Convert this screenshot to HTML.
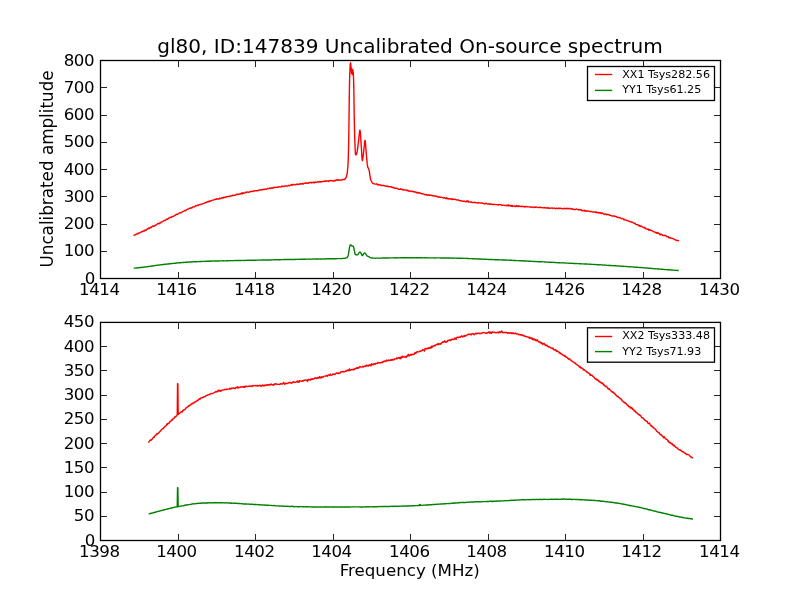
<!DOCTYPE html>
<html lang="en"><head><meta charset="utf-8"><title>gl80, ID:147839 Uncalibrated On-source spectrum</title>
<style>
html,body{margin:0;padding:0;background:#fff;}
body{width:800px;height:600px;overflow:hidden;}
svg{display:block;will-change:transform;}
text{font-family:"DejaVu Sans","Bitstream Vera Sans","Liberation Sans",sans-serif;fill:#000;}
.tk{font-size:16.67px;}
.lg{font-size:11.11px;}
.nm{font-size:16.67px;letter-spacing:-0.45px;}
.ti{font-size:20.06px;}
.ax{stroke:#000;stroke-width:1.3;fill:none;}
.tick{stroke:#262626;stroke-width:1;fill:none;shape-rendering:crispEdges;}
.ln{fill:none;stroke-width:1.4;stroke-linejoin:round;stroke-linecap:butt;}
</style></head><body>
<svg width="800" height="600" viewBox="0 0 800 600">
<rect x="0" y="0" width="800" height="600" fill="#ffffff"/>
<text class="ti" x="410" y="52.9" text-anchor="middle">gl80, ID:147839 Uncalibrated On-source spectrum</text>
<g id="ax1">
<path class="ln" stroke="#ff0000" d="M133.75 235.84L134.30 235.04L134.85 234.93L135.40 234.79L135.95 234.24L136.50 234.21L137.05 233.96L137.60 233.27L138.15 233.74L138.70 233.39L139.25 232.83L139.79 232.70L140.34 232.62L140.88 232.18L141.43 231.93L141.97 231.37L142.52 231.64L143.06 231.27L143.60 231.05L144.15 230.33L144.69 230.90L145.23 230.25L145.77 229.85L146.31 230.22L146.85 229.42L147.39 228.79L147.93 228.80L148.47 228.05L149.01 228.65L149.55 228.00L150.09 227.65L150.62 227.86L151.16 226.88L151.70 227.19L152.24 226.24L152.77 226.34L153.31 225.93L153.85 226.36L154.38 226.17L154.92 225.35L155.46 225.39L155.99 224.85L156.53 224.78L157.06 224.16L157.60 223.64L158.13 223.34L158.66 223.64L159.20 223.85L159.73 223.06L160.26 222.57L160.80 222.93L161.33 222.22L161.86 221.91L162.40 221.67L162.93 221.30L163.46 220.98L163.99 220.41L164.53 220.64L165.06 220.21L165.60 220.27L166.13 219.59L166.67 218.92L167.20 219.12L167.74 219.32L168.28 218.51L168.81 218.11L169.35 217.77L169.89 217.54L170.43 217.46L170.96 216.97L171.50 217.40L172.04 216.67L172.58 216.51L173.12 216.59L173.65 216.34L174.19 215.63L174.73 215.51L175.27 215.35L175.81 214.85L176.35 214.17L176.89 214.55L177.43 214.35L177.97 213.97L178.52 213.36L179.06 213.29L179.60 212.93L180.14 212.75L180.69 212.91L181.23 212.72L181.77 212.24L182.31 211.95L182.86 211.72L183.40 211.29L183.94 211.01L184.49 210.60L185.03 210.51L185.58 210.86L186.12 210.24L186.67 209.67L187.21 209.39L187.76 209.04L188.31 209.12L188.85 208.88L189.40 208.16L189.95 208.42L190.51 207.92L191.06 208.20L191.61 207.65L192.17 207.83L192.72 207.04L193.28 206.87L193.84 206.81L194.40 206.80L194.96 206.46L195.53 205.79L196.09 205.95L196.66 205.71L197.22 205.39L197.79 205.14L198.36 205.56L198.93 204.81L199.49 204.50L200.06 204.70L200.63 204.37L201.20 204.13L201.77 204.16L202.34 203.90L202.92 203.68L203.49 203.65L204.06 203.28L204.63 202.86L205.20 202.74L205.77 202.51L206.34 202.51L206.91 201.99L207.48 201.60L208.05 201.91L208.62 201.35L209.19 201.01L209.76 201.42L210.33 200.96L210.90 201.08L211.47 200.63L212.04 200.30L212.62 200.09L213.19 200.10L213.76 199.99L214.34 199.67L214.91 199.64L215.49 199.15L216.07 199.39L216.64 198.76L217.22 199.02L217.80 199.10L218.38 199.06L218.96 199.08L219.55 198.09L220.13 198.55L220.71 198.53L221.30 198.34L221.88 197.71L222.47 197.93L223.06 198.18L223.64 197.18L224.23 197.57L224.82 197.61L225.41 197.01L225.99 197.22L226.58 196.67L227.17 196.61L227.76 196.48L228.34 196.62L228.93 196.42L229.51 196.56L230.10 195.93L230.68 196.01L231.27 196.16L231.85 195.92L232.44 195.29L233.02 195.67L233.61 195.23L234.19 195.32L234.77 195.16L235.36 195.26L235.94 194.83L236.53 194.18L237.11 194.17L237.69 194.57L238.28 194.18L238.86 194.40L239.45 194.04L240.03 193.64L240.61 193.98L241.20 193.36L241.78 192.90L242.37 193.84L242.96 192.68L243.54 193.22L244.13 193.17L244.72 192.85L245.30 192.25L245.89 192.84L246.48 192.08L247.07 191.99L247.66 192.14L248.25 192.32L248.84 192.09L249.43 192.11L250.02 191.68L250.61 191.64L251.20 191.28L251.79 191.39L252.38 191.52L252.97 191.19L253.56 191.29L254.15 190.91L254.75 190.80L255.34 190.87L255.93 190.70L256.52 190.81L257.11 190.60L257.70 190.90L258.29 190.29L258.89 190.18L259.48 189.87L260.07 190.04L260.66 190.11L261.25 189.64L261.84 189.71L262.43 189.81L263.02 189.49L263.61 189.28L264.21 189.56L264.80 189.23L265.39 189.21L265.98 189.30L266.57 189.19L267.16 188.70L267.75 188.55L268.34 188.66L268.94 188.45L269.53 187.89L270.12 188.62L270.71 188.19L271.30 188.28L271.89 187.69L272.49 188.23L273.08 187.65L273.67 187.68L274.26 187.25L274.86 187.48L275.45 187.37L276.04 187.29L276.64 187.37L277.23 187.18L277.82 187.33L278.42 186.87L279.01 186.65L279.60 186.82L280.20 186.91L280.79 186.98L281.39 186.79L281.98 186.04L282.58 186.51L283.17 186.71L283.77 186.27L284.36 186.04L284.95 186.17L285.55 185.88L286.14 186.10L286.74 185.85L287.33 186.13L287.93 185.82L288.52 185.42L289.12 185.68L289.71 185.68L290.30 185.21L290.90 185.16L291.49 184.59L292.09 185.34L292.68 184.86L293.27 184.38L293.87 184.38L294.46 184.70L295.06 184.86L295.65 184.55L296.24 184.61L296.84 184.12L297.43 183.97L298.02 184.46L298.62 184.27L299.21 184.05L299.81 184.31L300.40 183.64L301.00 183.70L301.59 184.00L302.18 184.13L302.78 183.58L303.37 183.93L303.97 183.27L304.56 183.44L305.16 183.24L305.76 182.80L306.35 183.21L306.95 183.32L307.54 182.98L308.14 182.93L308.74 183.25L309.33 182.50L309.93 182.37L310.53 182.53L311.13 182.33L311.72 182.93L312.32 182.61L312.92 182.24L313.51 182.25L314.11 183.10L314.71 182.14L315.31 182.04L315.90 182.26L316.50 182.29L317.10 182.13L317.70 181.78L318.29 181.66L318.89 182.06L319.49 181.83L320.09 181.37L320.68 182.04L321.28 181.88L321.88 181.56L322.48 181.50L323.07 181.57L323.67 181.28L324.27 181.05L324.87 181.43L325.46 180.92L326.06 181.34L326.66 180.82L327.26 181.11L327.85 181.05L328.45 181.49L329.05 180.70L329.65 180.56L330.24 180.70L330.84 180.53L331.44 180.61L332.04 180.82L332.64 180.86L333.23 181.04L333.83 180.36L334.43 181.19L335.03 180.96L335.62 180.34L336.22 179.75L336.82 180.28L337.42 180.28L338.02 179.61L338.62 180.18L339.22 180.06L339.82 179.86L340.41 180.17L341.01 180.20L341.60 179.74L342.21 179.85L342.85 179.53L343.48 179.40L344.08 179.50L344.59 179.45L345.02 178.93L345.41 178.07L345.76 178.24L346.06 177.07L346.28 176.95L346.46 176.84L346.62 175.81L346.77 174.92L346.90 174.26L347.02 174.34L347.13 173.43L347.23 172.97L347.31 172.47L347.39 171.62L347.45 170.96L347.51 170.20L347.57 169.05L347.63 168.86L347.68 168.64L347.73 168.01L347.78 167.57L347.83 166.83L347.87 166.30L347.91 165.87L347.95 164.83L347.99 164.39L348.02 163.44L348.06 163.51L348.09 162.67L348.12 162.19L348.14 161.86L348.17 161.14L348.19 160.24L348.21 159.87L348.23 158.69L348.25 158.58L348.27 157.90L348.29 156.84L348.31 157.01L348.33 155.88L348.35 155.64L348.37 154.76L348.39 154.53L348.40 154.01L348.42 152.85L348.44 152.07L348.45 151.83L348.47 151.49L348.48 150.57L348.50 149.91L348.51 149.60L348.52 148.15L348.54 148.10L348.55 147.31L348.57 147.15L348.58 146.28L348.59 145.58L348.60 145.18L348.62 144.29L348.63 144.07L348.64 143.29L348.65 142.77L348.66 142.08L348.67 141.91L348.68 141.04L348.69 140.61L348.71 139.99L348.72 139.06L348.73 138.82L348.74 138.16L348.75 137.55L348.76 136.77L348.77 136.16L348.78 135.87L348.79 135.64L348.80 134.25L348.81 134.01L348.81 133.17L348.82 132.87L348.83 132.18L348.84 131.74L348.85 130.14L348.86 130.11L348.87 129.41L348.88 129.04L348.89 128.28L348.90 127.70L348.91 127.45L348.92 127.16L348.93 125.33L348.94 125.39L348.95 124.95L348.96 124.27L348.97 123.58L348.97 122.72L348.98 122.22L348.99 122.06L349.00 121.55L349.01 120.69L349.01 119.85L349.02 119.49L349.03 118.81L349.04 118.41L349.04 117.70L349.05 116.91L349.06 116.52L349.07 115.56L349.07 115.48L349.08 114.98L349.09 113.76L349.09 113.58L349.10 112.61L349.11 112.55L349.11 111.90L349.12 111.01L349.13 110.73L349.13 109.76L349.14 109.10L349.15 108.52L349.15 108.03L349.16 107.39L349.17 106.91L349.17 106.11L349.18 105.87L349.19 105.34L349.19 104.34L349.20 103.50L349.21 103.46L349.21 102.97L349.22 102.03L349.23 101.14L349.24 100.94L349.24 100.67L349.25 99.18L349.26 99.19L349.27 98.39L349.28 97.65L349.28 97.40L349.29 96.33L349.30 96.15L349.31 95.81L349.32 94.92L349.33 94.04L349.34 93.21L349.35 92.74L349.36 91.99L349.37 92.29L349.38 91.21L349.39 90.40L349.40 89.73L349.41 89.19L349.42 88.78L349.43 87.94L349.44 88.11L349.45 86.88L349.47 86.27L349.48 85.95L349.49 85.65L349.50 85.02L349.51 83.94L349.53 83.54L349.54 82.91L349.55 82.41L349.57 81.74L349.58 80.83L349.59 80.14L349.61 79.92L349.63 78.96L349.64 79.03L349.66 78.08L349.67 77.21L349.69 76.79L349.71 76.14L349.73 75.64L349.75 75.32L349.77 74.10L349.79 73.39L349.81 73.36L349.83 72.63L349.86 72.12L349.88 71.59L349.91 70.83L349.93 70.43L349.96 69.27L350.00 68.75L350.04 67.73L350.08 66.85L350.12 66.52L350.17 65.77L350.22 64.42L350.27 64.02L350.32 63.87L350.38 63.66L350.43 62.94L350.49 62.95L350.55 62.72L350.62 64.04L350.70 64.00L350.78 64.73L350.87 65.39L350.95 66.24L351.03 66.95L351.11 67.46L351.18 68.44L351.23 68.90L351.29 69.93L351.33 70.19L351.38 71.03L351.42 72.10L351.47 72.92L351.51 73.14L351.56 73.23L351.61 73.46L351.67 73.03L351.72 72.99L351.78 71.89L351.84 71.10L351.90 70.06L351.96 69.31L352.01 69.61L352.06 70.00L352.11 70.28L352.15 70.89L352.20 72.05L352.24 72.56L352.28 73.66L352.33 73.91L352.38 74.20L352.42 74.59L352.47 74.12L352.52 73.83L352.57 72.41L352.62 71.60L352.67 70.50L352.73 69.74L352.80 69.54L352.89 70.36L352.99 70.53L353.10 71.90L353.19 72.72L353.24 72.88L353.29 73.98L353.33 74.21L353.37 75.04L353.40 75.28L353.44 76.19L353.47 76.30L353.50 77.31L353.52 77.62L353.54 78.31L353.57 79.11L353.59 79.59L353.60 80.12L353.62 80.93L353.64 81.55L353.66 81.58L353.67 82.69L353.69 83.32L353.70 83.55L353.72 84.44L353.73 84.60L353.74 85.91L353.76 86.08L353.77 86.72L353.78 87.65L353.80 87.90L353.81 88.69L353.82 88.87L353.83 89.59L353.84 89.98L353.85 90.88L353.86 91.81L353.87 92.20L353.88 92.97L353.89 93.07L353.90 93.71L353.91 94.42L353.92 95.29L353.93 95.83L353.94 96.33L353.95 97.10L353.96 97.50L353.96 98.13L353.97 99.08L353.98 99.19L353.99 99.99L354.00 100.96L354.00 101.16L354.01 101.92L354.02 102.18L354.03 103.45L354.04 102.95L354.04 103.84L354.05 104.46L354.06 105.76L354.07 106.03L354.08 106.47L354.08 106.81L354.09 107.83L354.10 108.37L354.11 108.76L354.12 109.15L354.13 109.85L354.13 110.79L354.14 111.42L354.15 111.96L354.16 112.50L354.17 112.68L354.18 113.75L354.19 114.07L354.20 114.95L354.21 115.66L354.22 115.96L354.23 116.47L354.25 117.60L354.26 118.03L354.27 118.37L354.28 118.36L354.29 119.73L354.31 120.50L354.32 121.23L354.33 121.36L354.35 121.97L354.36 122.62L354.37 123.56L354.38 123.63L354.40 124.51L354.41 124.90L354.42 125.81L354.44 125.93L354.45 127.04L354.46 127.41L354.48 128.08L354.49 128.88L354.50 129.64L354.52 129.50L354.53 130.80L354.55 131.28L354.56 131.66L354.58 132.70L354.59 132.99L354.61 133.87L354.62 133.98L354.64 134.51L354.66 135.66L354.67 136.50L354.69 136.70L354.71 137.37L354.73 137.61L354.75 137.99L354.77 138.88L354.79 139.93L354.81 139.65L354.83 140.61L354.85 140.84L354.87 141.96L354.90 142.76L354.92 142.81L354.95 143.62L354.97 144.67L355.00 144.91L355.02 145.23L355.05 145.90L355.08 146.45L355.10 147.94L355.13 148.33L355.17 149.59L355.20 150.34L355.24 150.72L355.28 151.50L355.32 152.54L355.38 153.03L355.43 153.64L355.49 153.64L355.56 154.71L355.64 154.54L355.72 154.36L355.82 154.83L356.05 154.79L356.38 154.60L356.68 153.25L356.86 152.41L357.00 152.74L357.13 151.66L357.24 150.97L357.35 150.18L357.44 149.60L357.53 149.66L357.61 148.60L357.69 147.93L357.77 147.34L357.84 147.27L357.91 146.11L357.97 145.82L358.04 145.12L358.11 144.51L358.19 143.62L358.27 143.42L358.35 143.06L358.43 141.98L358.51 141.06L358.59 140.23L358.68 139.86L358.76 138.96L358.84 138.22L358.92 137.45L359.00 136.28L359.08 136.09L359.16 135.19L359.23 134.39L359.31 133.78L359.39 133.31L359.46 132.50L359.53 131.73L359.60 131.80L359.67 131.00L359.74 130.62L359.81 130.20L359.87 130.51L359.94 130.24L360.00 130.48L360.06 130.93L360.12 131.09L360.18 131.70L360.23 131.94L360.29 132.24L360.35 132.80L360.40 133.35L360.45 134.29L360.51 134.82L360.56 135.42L360.61 136.49L360.66 137.06L360.72 137.70L360.77 138.22L360.82 139.53L360.87 140.27L360.92 141.00L360.97 141.65L361.02 142.30L361.07 143.18L361.12 143.99L361.17 144.55L361.22 145.15L361.26 145.70L361.31 146.59L361.36 147.27L361.40 147.75L361.45 148.90L361.49 149.68L361.53 150.48L361.57 151.03L361.62 151.81L361.66 152.35L361.70 153.63L361.74 153.65L361.78 154.85L361.83 155.58L361.87 156.58L361.91 157.01L361.96 157.37L362.01 157.81L362.05 158.50L362.10 159.16L362.16 159.53L362.21 159.78L362.27 159.89L362.32 160.17L362.38 160.56L362.45 159.97L362.52 160.07L362.60 160.15L362.68 159.42L362.76 158.60L362.85 158.25L362.95 157.18L363.04 156.63L363.13 156.25L363.23 155.54L363.32 153.82L363.41 153.69L363.50 153.30L363.58 152.00L363.66 151.60L363.74 151.26L363.82 150.03L363.90 149.52L363.98 148.62L364.05 147.34L364.13 147.14L364.21 146.22L364.28 145.73L364.36 145.29L364.43 144.21L364.51 143.26L364.58 142.86L364.65 142.25L364.72 141.99L364.79 140.97L364.86 140.75L364.93 140.34L365.00 140.96L365.06 140.84L365.13 140.82L365.19 141.02L365.25 141.37L365.31 141.66L365.37 142.27L365.43 142.74L365.49 143.80L365.54 144.15L365.60 144.52L365.66 145.28L365.71 146.48L365.77 147.04L365.83 147.78L365.88 148.68L365.94 149.70L366.00 149.77L366.05 150.68L366.11 151.19L366.17 152.53L366.23 153.03L366.29 153.65L366.35 154.29L366.41 155.28L366.47 155.66L366.53 156.16L366.58 157.22L366.63 157.23L366.69 157.78L366.74 159.38L366.79 159.22L366.84 159.78L366.89 160.33L366.95 161.09L367.01 161.93L367.07 162.52L367.13 163.06L367.20 163.44L367.28 163.72L367.36 164.77L367.45 165.68L367.55 166.14L367.65 166.40L367.78 167.22L367.97 167.47L368.22 168.11L368.49 168.35L368.76 169.14L368.98 169.82L369.13 170.31L369.25 171.13L369.36 172.01L369.45 172.45L369.54 172.62L369.62 173.11L369.69 173.73L369.77 174.25L369.86 175.11L369.95 175.80L370.05 176.33L370.15 176.94L370.24 177.53L370.35 178.06L370.46 178.50L370.59 179.72L370.75 180.10L370.94 180.14L371.20 180.70L371.53 181.35L371.90 182.04L372.30 182.82L372.72 183.14L373.16 183.43L373.64 183.68L374.18 183.90L374.75 184.00L375.35 184.10L375.97 184.11L376.59 183.83L377.20 184.39L377.81 185.03L378.39 184.54L378.98 184.64L379.57 185.17L380.16 185.02L380.75 184.97L381.34 185.59L381.94 185.43L382.54 185.55L383.13 185.29L383.73 185.66L384.32 185.73L384.91 185.94L385.50 186.14L386.09 186.25L386.67 186.12L387.26 186.38L387.85 186.03L388.43 186.62L389.02 186.76L389.61 186.61L390.19 186.64L390.78 186.96L391.36 186.80L391.95 187.34L392.53 187.46L393.12 187.27L393.70 187.67L394.29 188.07L394.87 188.20L395.46 188.32L396.04 188.15L396.63 188.23L397.22 188.34L397.80 188.72L398.39 189.30L398.98 189.17L399.57 189.34L400.15 189.39L400.74 188.74L401.33 189.22L401.92 189.28L402.51 189.83L403.10 190.06L403.69 189.56L404.28 189.86L404.86 190.11L405.45 189.96L406.04 190.04L406.63 190.14L407.22 190.66L407.81 190.31L408.40 190.96L408.98 190.81L409.57 191.11L410.16 191.43L410.75 190.98L411.33 191.07L411.92 191.52L412.50 191.27L413.09 191.48L413.68 191.77L414.26 191.97L414.85 191.74L415.43 192.09L416.02 192.47L416.60 192.80L417.19 192.08L417.77 193.06L418.36 193.08L418.95 192.70L419.53 192.73L420.12 193.35L420.70 193.26L421.29 193.53L421.88 193.84L422.46 193.65L423.05 193.91L423.64 194.11L424.23 194.34L424.81 194.69L425.40 194.79L425.99 194.53L426.58 194.53L427.16 195.33L427.75 195.00L428.34 195.06L428.93 194.78L429.52 195.39L430.11 195.10L430.69 195.30L431.28 195.19L431.87 195.51L432.46 195.78L433.05 195.49L433.64 195.76L434.23 196.08L434.82 195.89L435.41 196.00L436.00 196.22L436.59 196.19L437.18 196.82L437.77 196.51L438.36 197.08L438.95 197.23L439.54 196.79L440.13 197.21L440.72 197.19L441.31 197.12L441.90 197.44L442.49 197.57L443.08 197.92L443.67 198.10L444.26 197.66L444.85 197.94L445.44 198.29L446.04 198.56L446.63 197.72L447.22 198.78L447.81 198.51L448.40 199.05L448.99 198.64L449.58 198.63L450.18 198.96L450.77 199.35L451.36 199.15L451.95 198.63L452.55 199.51L453.14 199.02L453.73 199.27L454.32 199.32L454.92 199.24L455.51 199.49L456.10 199.65L456.69 199.84L457.29 200.07L457.88 200.09L458.47 199.88L459.07 200.31L459.66 200.70L460.25 200.78L460.85 200.66L461.44 200.88L462.03 201.04L462.63 201.25L463.22 201.42L463.81 200.99L464.41 201.09L465.00 201.63L465.59 201.74L466.19 201.82L466.78 200.89L467.38 201.53L467.97 200.82L468.57 201.94L469.16 201.84L469.76 201.92L470.35 201.95L470.95 202.40L471.54 202.06L472.14 202.48L472.73 202.42L473.33 202.44L473.92 202.53L474.52 202.50L475.12 202.25L475.71 202.79L476.31 202.85L476.91 202.68L477.50 202.97L478.10 203.07L478.70 202.56L479.30 202.92L479.89 202.89L480.49 202.83L481.09 203.21L481.69 202.96L482.28 203.12L482.88 203.36L483.48 203.44L484.08 203.49L484.67 204.05L485.27 203.40L485.87 203.65L486.46 203.33L487.06 203.83L487.66 204.07L488.25 204.15L488.85 203.73L489.45 203.88L490.04 204.35L490.64 204.06L491.24 204.39L491.84 203.95L492.43 204.62L493.03 204.59L493.63 204.50L494.22 204.23L494.82 204.46L495.42 204.60L496.01 204.68L496.61 204.64L497.21 204.67L497.81 204.83L498.40 205.19L499.00 204.36L499.60 204.58L500.20 204.58L500.80 204.86L501.39 204.64L501.99 205.28L502.59 205.21L503.19 205.17L503.79 205.11L504.38 205.37L504.98 205.43L505.58 205.51L506.18 205.28L506.78 205.69L507.38 205.18L507.97 205.93L508.57 204.85L509.17 205.54L509.77 205.42L510.37 205.98L510.97 205.43L511.57 206.33L512.16 205.49L512.76 206.46L513.36 206.08L513.96 206.01L514.56 206.15L515.16 206.64L515.76 206.34L516.36 205.56L516.96 206.49L517.55 206.27L518.15 205.83L518.75 206.48L519.35 206.00L519.95 206.40L520.55 206.45L521.15 206.25L521.75 206.62L522.35 206.23L522.95 206.58L523.54 206.42L524.14 206.55L524.74 207.14L525.34 206.70L525.94 206.43L526.54 206.72L527.14 206.59L527.74 206.83L528.34 206.90L528.93 206.92L529.53 206.96L530.13 206.83L530.73 207.12L531.33 207.32L531.93 206.92L532.53 207.10L533.13 207.16L533.73 207.51L534.32 207.49L534.92 207.06L535.52 207.30L536.12 206.92L536.72 207.09L537.32 207.37L537.92 207.56L538.52 207.67L539.12 207.37L539.72 207.13L540.32 207.61L540.92 207.49L541.52 207.67L542.12 207.63L542.72 207.80L543.31 207.81L543.91 207.89L544.51 207.58L545.11 207.99L545.71 207.63L546.31 207.81L546.91 208.30L547.51 207.94L548.11 207.58L548.71 208.31L549.31 208.22L549.90 208.29L550.50 208.09L551.10 208.16L551.70 208.05L552.30 207.96L552.90 208.57L553.50 208.10L554.10 208.10L554.70 208.13L555.30 208.75L555.90 208.52L556.50 208.21L557.10 208.32L557.70 208.48L558.30 208.59L558.90 207.97L559.50 208.64L560.10 208.36L560.70 208.26L561.30 208.35L561.90 208.68L562.50 208.95L563.10 208.55L563.70 208.67L564.30 208.33L564.90 208.69L565.50 208.80L566.10 208.22L566.70 208.50L567.30 208.87L567.90 208.23L568.49 208.62L569.09 208.91L569.69 208.34L570.29 208.71L570.88 208.87L571.48 209.14L572.08 208.63L572.67 209.30L573.27 209.16L573.86 209.45L574.46 209.52L575.06 209.38L575.65 209.49L576.25 208.99L576.84 209.18L577.44 209.35L578.03 209.61L578.62 210.03L579.22 209.42L579.81 209.89L580.41 209.72L581.00 209.75L581.60 210.63L582.19 210.36L582.78 210.85L583.38 210.82L583.97 210.36L584.57 210.21L585.16 211.31L585.75 210.75L586.35 210.64L586.94 211.20L587.54 211.14L588.13 211.01L588.73 211.17L589.32 211.39L589.92 211.45L590.51 211.71L591.11 211.50L591.70 211.59L592.30 211.92L592.89 211.93L593.48 212.22L594.08 211.96L594.67 212.09L595.27 211.91L595.86 212.69L596.45 212.03L597.04 212.54L597.63 212.36L598.22 212.78L598.82 212.98L599.41 212.47L599.99 212.94L600.58 212.65L601.17 213.58L601.76 213.22L602.35 213.04L602.94 213.38L603.53 214.02L604.12 214.19L604.70 214.26L605.29 213.85L605.88 214.14L606.47 214.74L607.05 214.25L607.64 214.49L608.23 214.47L608.81 214.55L609.39 215.31L609.98 215.30L610.56 215.40L611.14 215.58L611.73 215.84L612.31 216.12L612.89 215.87L613.46 215.94L614.04 215.92L614.62 216.63L615.19 216.37L615.77 216.28L616.34 216.77L616.92 217.01L617.49 217.40L618.06 217.63L618.63 217.36L619.20 217.53L619.77 217.84L620.34 217.80L620.91 218.29L621.47 218.63L622.04 218.72L622.61 218.50L623.17 218.81L623.74 219.66L624.30 219.27L624.86 219.94L625.43 220.12L625.99 220.09L626.55 220.12L627.11 220.65L627.67 220.58L628.24 220.98L628.80 221.27L629.36 221.27L629.92 221.61L630.48 221.80L631.03 221.78L631.59 222.27L632.15 222.38L632.70 222.30L633.26 222.91L633.81 223.15L634.37 223.30L634.92 223.16L635.47 224.13L636.02 224.34L636.57 224.57L637.13 224.72L637.68 224.55L638.23 225.14L638.78 225.11L639.33 226.16L639.88 225.69L640.43 226.24L640.98 225.90L641.53 226.24L642.09 226.64L642.64 227.20L643.19 227.39L643.74 227.55L644.30 227.23L644.85 228.23L645.41 227.93L645.96 228.81L646.52 229.11L647.07 229.06L647.63 229.33L648.18 228.98L648.74 230.20L649.30 229.82L649.85 230.25L650.41 229.99L650.96 230.42L651.52 230.35L652.08 230.83L652.63 231.12L653.19 231.40L653.75 231.92L654.30 231.91L654.86 232.07L655.42 232.24L655.98 232.97L656.54 232.51L657.09 233.19L657.65 232.59L658.21 233.09L658.77 233.64L659.33 233.70L659.89 234.74L660.45 234.84L661.02 233.99L661.58 234.32L662.14 234.77L662.70 235.47L663.26 235.52L663.82 235.52L664.39 235.27L664.95 235.63L665.51 235.36L666.08 235.86L666.64 236.58L667.20 236.88L667.77 236.54L668.33 237.11L668.90 237.71L669.46 237.53L670.03 237.61L670.59 238.05L671.16 238.23L671.72 238.31L672.29 238.35L672.86 238.58L673.42 238.91L673.99 238.94L674.56 239.62L675.13 239.70L675.69 239.95L676.26 240.39L676.83 240.47L677.40 240.62L677.97 240.54L678.54 240.58L678.75 241.30"/>
<path class="ln" stroke="#008000" d="M133.75 268.22L134.35 268.16L134.94 268.09L135.54 268.08L136.14 268.03L136.74 268.00L137.33 267.87L137.93 267.73L138.53 267.77L139.12 267.74L139.72 267.63L140.31 267.55L140.91 267.52L141.51 267.49L142.10 267.35L142.70 267.21L143.29 267.18L143.89 267.13L144.48 266.97L145.08 267.03L145.68 266.88L146.27 266.86L146.86 266.77L147.46 266.66L148.05 266.68L148.65 266.48L149.24 266.39L149.84 266.36L150.43 266.30L151.02 266.17L151.62 266.03L152.21 266.03L152.80 265.94L153.40 265.92L153.99 265.72L154.59 265.66L155.18 265.54L155.77 265.41L156.37 265.40L156.96 265.36L157.56 265.19L158.15 265.13L158.75 265.03L159.34 265.08L159.94 264.91L160.53 264.89L161.13 264.75L161.73 264.72L162.32 264.61L162.92 264.45L163.51 264.50L164.11 264.45L164.70 264.25L165.30 264.28L165.90 264.19L166.49 264.09L167.09 264.06L167.68 263.91L168.28 263.95L168.88 263.93L169.47 263.74L170.07 263.74L170.67 263.75L171.26 263.62L171.86 263.52L172.45 263.43L173.05 263.42L173.65 263.34L174.24 263.32L174.84 263.14L175.44 263.21L176.03 263.07L176.63 263.06L177.23 262.94L177.83 262.85L178.42 262.82L179.02 262.75L179.62 262.72L180.22 262.72L180.81 262.69L181.41 262.60L182.01 262.51L182.61 262.47L183.20 262.48L183.80 262.46L184.40 262.35L185.00 262.31L185.60 262.24L186.20 262.25L186.80 262.25L187.39 262.02L187.99 262.14L188.59 262.06L189.19 261.94L189.79 262.04L190.39 261.98L190.99 261.97L191.59 261.85L192.19 262.00L192.79 261.87L193.39 261.81L193.99 261.88L194.58 261.80L195.18 261.78L195.78 261.77L196.38 261.58L196.98 261.74L197.58 261.61L198.18 261.62L198.78 261.62L199.38 261.52L199.98 261.54L200.58 261.54L201.18 261.48L201.78 261.48L202.38 261.35L202.98 261.35L203.58 261.33L204.18 261.38L204.78 261.53L205.38 261.34L205.98 261.29L206.57 261.28L207.17 261.31L207.77 261.28L208.37 261.16L208.97 261.25L209.57 261.18L210.17 261.21L210.77 261.05L211.37 261.05L211.97 261.14L212.57 261.00L213.17 261.10L213.77 261.08L214.37 261.05L214.97 261.05L215.57 261.02L216.17 261.02L216.77 260.96L217.37 260.96L217.97 261.10L218.57 260.99L219.17 260.95L219.77 260.93L220.37 260.85L220.97 260.89L221.57 260.85L222.17 260.90L222.77 260.79L223.37 260.70L223.97 260.78L224.57 260.83L225.17 260.91L225.77 260.82L226.37 260.71L226.97 260.74L227.57 260.69L228.17 260.71L228.77 260.67L229.37 260.62L229.97 260.71L230.57 260.69L231.17 260.66L231.77 260.67L232.37 260.74L232.97 260.64L233.57 260.60L234.17 260.65L234.77 260.51L235.37 260.62L235.97 260.53L236.57 260.52L237.17 260.56L237.77 260.62L238.37 260.49L238.97 260.56L239.57 260.52L240.17 260.42L240.77 260.53L241.37 260.43L241.97 260.39L242.56 260.41L243.16 260.40L243.76 260.45L244.36 260.38L244.96 260.48L245.56 260.40L246.16 260.34L246.76 260.32L247.36 260.36L247.96 260.24L248.56 260.22L249.16 260.27L249.76 260.34L250.36 260.30L250.96 260.28L251.56 260.26L252.16 260.15L252.76 260.23L253.36 260.14L253.96 260.26L254.56 260.21L255.16 260.19L255.76 260.20L256.36 260.19L256.96 260.17L257.56 260.17L258.16 260.11L258.76 260.06L259.36 260.13L259.96 260.17L260.56 260.14L261.16 260.07L261.76 260.10L262.36 260.03L262.96 260.06L263.56 260.00L264.16 260.02L264.76 260.10L265.36 260.03L265.96 260.06L266.56 259.93L267.16 259.92L267.76 259.94L268.36 259.96L268.96 259.91L269.56 259.96L270.16 259.87L270.76 259.95L271.36 259.92L271.96 259.80L272.56 259.88L273.16 259.83L273.76 259.88L274.36 259.79L274.96 259.82L275.56 259.82L276.16 259.64L276.76 259.67L277.36 259.76L277.96 259.73L278.56 259.78L279.16 259.73L279.76 259.64L280.36 259.71L280.96 259.64L281.56 259.65L282.16 259.63L282.76 259.66L283.36 259.56L283.96 259.56L284.56 259.49L285.16 259.70L285.76 259.53L286.36 259.53L286.96 259.50L287.56 259.51L288.16 259.51L288.76 259.55L289.36 259.52L289.96 259.51L290.56 259.46L291.16 259.47L291.76 259.52L292.35 259.45L292.95 259.45L293.55 259.33L294.15 259.44L294.75 259.42L295.35 259.46L295.95 259.24L296.55 259.37L297.15 259.35L297.75 259.35L298.35 259.30L298.95 259.34L299.55 259.35L300.15 259.30L300.75 259.28L301.35 259.27L301.95 259.25L302.55 259.26L303.15 259.21L303.75 259.13L304.35 259.29L304.95 259.12L305.55 259.19L306.15 259.12L306.75 259.16L307.35 259.12L307.95 259.15L308.55 259.10L309.15 259.07L309.75 259.14L310.35 259.18L310.95 259.12L311.55 259.10L312.15 259.03L312.75 259.07L313.35 259.08L313.95 259.02L314.55 259.08L315.15 259.03L315.75 259.04L316.35 258.98L316.95 258.97L317.55 259.00L318.15 259.00L318.75 258.99L319.35 258.91L319.95 258.91L320.55 258.94L321.15 258.84L321.75 258.97L322.35 258.93L322.95 258.91L323.55 258.86L324.15 258.93L324.75 258.87L325.35 258.97L325.95 258.88L326.55 258.78L327.15 258.88L327.75 258.81L328.35 258.80L328.95 258.81L329.55 258.80L330.15 258.81L330.75 258.82L331.35 258.79L331.96 258.72L332.56 258.68L333.17 258.70L333.77 258.75L334.38 258.76L334.99 258.80L335.59 258.63L336.20 258.69L336.81 258.66L337.41 258.64L338.02 258.65L338.62 258.61L339.22 258.59L339.82 258.55L340.42 258.58L341.02 258.59L341.62 258.59L342.21 258.45L342.80 258.39L343.39 258.40L343.97 258.33L344.56 258.38L345.14 258.24L345.76 258.16L346.36 257.88L346.88 257.66L347.26 257.35L347.58 256.89L347.85 256.19L348.05 255.67L348.22 254.98L348.36 254.44L348.48 253.86L348.60 253.28L348.71 252.74L348.82 252.16L348.92 251.45L349.00 250.96L349.08 250.28L349.16 249.82L349.25 249.15L349.34 248.55L349.44 247.94L349.56 247.37L349.70 246.79L349.89 246.05L350.11 245.42L350.38 244.89L350.69 244.81L351.10 245.21L351.59 245.75L352.16 245.83L352.80 246.12L353.19 246.13L353.46 246.71L353.67 247.43L353.83 248.02L353.96 248.50L354.08 249.05L354.19 249.66L354.30 250.27L354.44 250.87L354.57 251.56L354.69 252.33L354.83 253.04L354.98 253.60L355.17 254.19L355.39 254.56L355.74 254.75L356.37 254.80L357.06 254.84L357.57 254.90L357.96 254.58L358.30 253.90L358.65 253.41L359.05 252.92L359.53 252.33L359.99 252.02L360.40 252.32L360.79 252.90L361.15 253.50L361.49 253.99L361.81 254.86L362.12 255.42L362.43 255.55L362.76 255.34L363.07 254.88L363.40 254.25L363.78 253.78L364.28 253.32L364.80 253.00L365.24 253.07L365.63 253.72L365.98 254.32L366.28 254.80L366.56 255.37L366.93 255.76L367.43 256.03L368.00 256.24L368.58 256.56L369.12 256.75L369.63 257.25L370.13 257.51L370.65 257.86L371.20 257.90L371.77 258.03L372.37 258.06L372.98 258.15L373.59 258.12L374.20 258.10L374.81 258.18L375.41 258.18L376.01 258.12L376.61 258.15L377.21 258.09L377.81 258.17L378.41 258.13L379.01 258.14L379.61 258.25L380.21 258.12L380.81 258.11L381.41 258.11L382.01 258.05L382.61 258.01L383.21 258.07L383.81 258.07L384.41 257.86L385.01 257.99L385.61 257.97L386.21 257.95L386.81 258.03L387.41 257.94L388.01 258.00L388.61 257.92L389.21 257.92L389.81 257.96L390.41 257.88L391.01 257.90L391.61 257.85L392.21 257.85L392.81 257.92L393.41 257.91L394.01 257.81L394.61 257.80L395.21 257.98L395.81 257.82L396.41 257.80L397.01 257.86L397.61 257.79L398.21 257.80L398.81 257.86L399.41 257.86L400.01 257.79L400.61 257.86L401.21 257.78L401.81 257.77L402.41 257.78L403.01 257.76L403.61 257.80L404.21 257.78L404.81 257.72L405.41 257.77L406.01 257.73L406.61 257.72L407.21 257.74L407.81 257.80L408.41 257.76L409.01 257.81L409.61 257.82L410.21 257.74L410.81 257.72L411.41 257.71L412.01 257.76L412.61 257.79L413.21 257.83L413.81 257.69L414.41 257.80L415.01 257.81L415.61 257.88L416.21 257.77L416.81 257.76L417.41 257.69L418.01 257.73L418.61 257.72L419.21 257.72L419.81 257.73L420.41 257.70L421.01 257.78L421.61 257.81L422.21 257.83L422.81 257.79L423.41 257.85L424.01 257.86L424.61 257.73L425.21 257.80L425.81 257.76L426.41 257.78L427.01 257.84L427.61 257.83L428.21 257.91L428.81 257.95L429.41 257.87L430.01 257.84L430.61 257.85L431.21 257.86L431.81 257.90L432.41 257.84L433.01 257.91L433.61 257.87L434.21 257.94L434.81 257.96L435.41 257.99L436.01 257.90L436.61 257.84L437.21 257.83L437.81 257.91L438.41 257.86L439.01 257.85L439.61 257.92L440.21 257.90L440.81 257.99L441.41 258.06L442.01 257.95L442.61 257.99L443.21 257.90L443.81 258.00L444.41 257.96L445.01 257.95L445.61 257.92L446.21 258.10L446.81 257.94L447.41 257.97L448.01 258.04L448.61 258.06L449.21 258.07L449.81 258.07L450.41 258.03L451.01 258.12L451.61 258.10L452.21 258.03L452.81 258.19L453.41 258.11L454.01 258.18L454.61 258.07L455.21 258.10L455.81 258.14L456.41 258.14L457.01 258.24L457.61 258.12L458.21 258.22L458.81 258.17L459.41 258.26L460.01 258.26L460.61 258.23L461.21 258.39L461.80 258.29L462.40 258.36L463.00 258.26L463.60 258.34L464.20 258.36L464.80 258.39L465.40 258.38L466.00 258.38L466.60 258.29L467.20 258.44L467.80 258.44L468.40 258.50L469.00 258.58L469.60 258.67L470.20 258.61L470.80 258.66L471.40 258.67L472.00 258.70L472.60 258.72L473.20 258.71L473.80 258.73L474.40 258.79L474.99 258.89L475.59 258.87L476.19 258.94L476.79 258.82L477.39 258.93L477.99 258.96L478.59 259.00L479.19 258.93L479.79 258.93L480.39 258.95L480.99 259.06L481.59 259.22L482.19 259.14L482.79 259.10L483.39 259.20L483.99 259.19L484.59 259.24L485.19 259.23L485.79 259.22L486.38 259.28L486.98 259.36L487.58 259.37L488.18 259.44L488.78 259.35L489.38 259.47L489.98 259.45L490.58 259.48L491.18 259.55L491.78 259.51L492.38 259.55L492.98 259.59L493.58 259.62L494.18 259.65L494.78 259.70L495.38 259.68L495.98 259.66L496.58 259.82L497.18 259.72L497.78 259.77L498.38 259.73L498.98 259.69L499.57 259.78L500.17 259.85L500.77 259.89L501.37 259.89L501.97 259.95L502.57 259.99L503.17 260.01L503.77 259.99L504.37 260.02L504.97 260.03L505.57 260.02L506.17 260.16L506.77 260.05L507.37 260.13L507.97 260.17L508.57 260.08L509.17 260.25L509.77 260.22L510.37 260.28L510.96 260.28L511.56 260.25L512.16 260.36L512.76 260.38L513.36 260.46L513.96 260.46L514.56 260.38L515.16 260.55L515.76 260.56L516.36 260.59L516.96 260.60L517.56 260.57L518.16 260.67L518.76 260.65L519.35 260.84L519.95 260.72L520.55 260.70L521.15 260.77L521.75 260.89L522.35 260.82L522.95 260.76L523.55 260.99L524.15 260.96L524.75 260.95L525.35 261.04L525.95 260.99L526.55 261.01L527.14 261.15L527.74 261.11L528.34 261.19L528.94 261.19L529.54 261.27L530.14 261.26L530.74 261.18L531.34 261.35L531.94 261.32L532.54 261.42L533.14 261.41L533.74 261.51L534.34 261.45L534.93 261.40L535.53 261.51L536.13 261.58L536.73 261.57L537.33 261.60L537.93 261.72L538.53 261.67L539.13 261.76L539.73 261.75L540.33 261.70L540.93 261.75L541.53 261.81L542.13 261.87L542.72 261.85L543.32 261.85L543.92 261.90L544.52 261.95L545.12 261.96L545.72 262.01L546.32 262.16L546.92 262.11L547.52 262.09L548.12 262.16L548.72 262.27L549.32 262.25L549.92 262.24L550.52 262.21L551.11 262.22L551.71 262.32L552.31 262.36L552.91 262.32L553.51 262.36L554.11 262.46L554.71 262.38L555.31 262.43L555.91 262.54L556.51 262.61L557.11 262.62L557.71 262.69L558.31 262.75L558.90 262.74L559.50 262.71L560.10 262.86L560.70 262.87L561.30 262.86L561.90 262.81L562.50 262.90L563.10 262.80L563.70 262.92L564.30 262.84L564.90 262.98L565.50 263.08L566.10 263.06L566.69 263.17L567.29 263.12L567.89 263.15L568.49 263.16L569.09 263.23L569.69 263.23L570.29 263.32L570.89 263.37L571.49 263.34L572.09 263.29L572.69 263.41L573.29 263.48L573.89 263.47L574.49 263.48L575.09 263.54L575.68 263.59L576.28 263.42L576.88 263.66L577.48 263.65L578.08 263.67L578.68 263.64L579.28 263.71L579.88 263.76L580.48 263.69L581.08 263.83L581.68 263.82L582.28 263.92L582.88 263.91L583.47 263.90L584.07 263.94L584.67 264.00L585.27 264.01L585.87 264.06L586.47 264.03L587.07 264.03L587.67 264.10L588.27 264.09L588.87 264.15L589.47 264.24L590.07 264.17L590.66 264.23L591.26 264.36L591.86 264.33L592.46 264.39L593.06 264.36L593.66 264.40L594.26 264.47L594.86 264.61L595.46 264.58L596.06 264.51L596.66 264.65L597.25 264.71L597.85 264.73L598.45 264.67L599.05 264.76L599.65 264.91L600.25 264.79L600.85 264.89L601.45 264.87L602.05 264.88L602.64 264.96L603.24 265.07L603.84 265.11L604.44 265.05L605.04 265.10L605.64 265.12L606.24 265.10L606.84 265.27L607.44 265.35L608.03 265.39L608.63 265.32L609.23 265.45L609.83 265.48L610.43 265.44L611.03 265.50L611.63 265.52L612.23 265.59L612.83 265.70L613.42 265.61L614.02 265.63L614.62 265.77L615.22 265.77L615.82 265.71L616.42 265.79L617.02 265.84L617.62 265.89L618.21 265.98L618.81 266.05L619.41 266.04L620.01 266.09L620.61 266.09L621.21 266.21L621.81 266.27L622.40 266.23L623.00 266.25L623.60 266.43L624.20 266.41L624.80 266.36L625.40 266.37L626.00 266.48L626.59 266.59L627.19 266.55L627.79 266.61L628.39 266.64L628.99 266.74L629.59 266.81L630.19 266.72L630.78 266.82L631.38 266.86L631.98 266.88L632.58 266.90L633.18 267.04L633.78 267.05L634.38 267.13L634.97 267.21L635.57 267.16L636.17 267.25L636.77 267.24L637.37 267.30L637.97 267.37L638.56 267.39L639.16 267.37L639.76 267.56L640.36 267.54L640.96 267.52L641.56 267.51L642.15 267.67L642.75 267.75L643.35 267.81L643.95 267.86L644.55 267.84L645.14 267.93L645.74 267.87L646.34 268.01L646.94 268.09L647.54 268.06L648.13 268.13L648.73 268.20L649.33 268.25L649.93 268.36L650.53 268.28L651.12 268.45L651.72 268.37L652.32 268.45L652.92 268.50L653.52 268.58L654.11 268.61L654.71 268.71L655.31 268.73L655.91 268.89L656.51 268.85L657.10 268.87L657.70 268.95L658.30 269.01L658.90 269.02L659.50 269.02L660.09 269.08L660.69 269.18L661.29 269.26L661.89 269.29L662.49 269.31L663.09 269.39L663.68 269.38L664.28 269.46L664.88 269.57L665.48 269.60L666.08 269.65L666.68 269.61L667.27 269.69L667.87 269.67L668.47 269.81L669.07 269.79L669.67 269.79L670.27 269.87L670.86 269.95L671.46 269.87L672.06 269.96L672.66 270.12L673.26 270.12L673.86 270.15L674.45 270.12L675.05 270.32L675.65 270.34L676.25 270.36L676.85 270.31L677.45 270.44L678.05 270.51L678.64 270.48L678.75 270.49"/>
<path class="tick" d="M178.5 278.5v-7.0M178.5 60.5v6.0M255.5 278.5v-7.0M255.5 60.5v6.0M333.5 278.5v-7.0M333.5 60.5v6.0M410.5 278.5v-7.0M410.5 60.5v6.0M488.5 278.5v-7.0M488.5 60.5v6.0M565.5 278.5v-7.0M565.5 60.5v6.0M643.5 278.5v-7.0M643.5 60.5v6.0M100.5 251.5h6.0M720.5 251.5h-7.0M100.5 224.5h6.0M720.5 224.5h-7.0M100.5 196.5h6.0M720.5 196.5h-7.0M100.5 169.5h6.0M720.5 169.5h-7.0M100.5 142.5h6.0M720.5 142.5h-7.0M100.5 115.5h6.0M720.5 115.5h-7.0M100.5 87.5h6.0M720.5 87.5h-7.0"/>
<rect class="ax" x="100.5" y="60.5" width="620.0" height="218.0"/>
<text class="nm" x="99.35" y="295.4" text-anchor="middle">1414</text>
<text class="nm" x="176.45" y="295.4" text-anchor="middle">1416</text>
<text class="nm" x="254.35" y="295.4" text-anchor="middle">1418</text>
<text class="nm" x="331.45" y="295.4" text-anchor="middle">1420</text>
<text class="nm" x="409.35" y="295.4" text-anchor="middle">1422</text>
<text class="nm" x="486.45" y="295.4" text-anchor="middle">1424</text>
<text class="nm" x="564.35" y="295.4" text-anchor="middle">1426</text>
<text class="nm" x="641.45" y="295.4" text-anchor="middle">1428</text>
<text class="nm" x="719.35" y="295.4" text-anchor="middle">1430</text>
<text class="nm" x="95.00" y="283.78" text-anchor="end">0</text>
<text class="nm" x="94.10" y="255.51" text-anchor="end">100</text>
<text class="nm" x="94.10" y="229.23" text-anchor="end">200</text>
<text class="nm" x="94.10" y="201.96" text-anchor="end">300</text>
<text class="nm" x="94.10" y="174.69" text-anchor="end">400</text>
<text class="nm" x="94.10" y="147.42" text-anchor="end">500</text>
<text class="nm" x="94.10" y="120.15" text-anchor="end">600</text>
<text class="nm" x="94.10" y="92.87" text-anchor="end">700</text>
<text class="nm" x="94.10" y="65.60" text-anchor="end">800</text>
<rect x="587.5" y="66.5" width="127" height="34" fill="#fff" stroke="#000" stroke-width="1.3"/>
<path class="ln" stroke="#ff0000" d="M595 74.5H612.2"/>
<path class="ln" stroke="#008000" d="M595 90.4H612.2"/>
<text class="lg" x="622.2" y="78.0">XX1 Tsys282.56</text>
<text class="lg" x="622.2" y="92.9">YY1 Tsys61.25</text>
</g>
<text class="tk" style="font-size:16.78px" transform="translate(53.4 168.95) rotate(-90)" text-anchor="middle">Uncalibrated amplitude</text>
<g id="ax2">
<path class="ln" stroke="#ff0000" d="M148.25 442.33L148.68 442.25L149.12 441.57L149.55 441.13L149.98 440.36L150.42 439.88L150.85 440.28L151.28 440.07L151.72 439.43L152.15 439.19L152.59 438.16L153.02 437.90L153.45 437.62L153.89 437.03L154.32 437.20L154.76 435.84L155.19 435.66L155.62 435.32L156.06 434.79L156.49 434.87L156.93 433.56L157.36 434.13L157.79 433.64L158.23 433.04L158.66 432.96L159.09 432.85L159.52 431.75L159.96 431.51L160.39 430.99L160.82 430.61L161.26 429.87L161.69 429.39L162.12 429.40L162.56 428.62L162.99 428.67L163.42 428.21L163.86 427.41L164.29 427.25L164.73 426.75L165.16 426.26L165.60 426.26L166.04 425.50L166.47 425.15L166.91 424.04L167.35 424.44L167.78 423.38L168.22 423.31L168.66 423.54L169.10 423.18L169.54 422.08L169.98 421.40L170.42 421.52L170.86 420.86L171.30 420.69L171.75 419.74L172.19 420.12L172.63 419.86L173.07 418.49L173.52 418.30L173.96 417.92L174.41 417.98L174.85 416.71L175.30 417.01L175.75 416.47L176.20 415.90L176.65 415.99L177.11 414.74L177.56 414.54L177.25 414.48L177.55 383.60L177.85 383.60L178.20 414.18L178.02 414.34L178.48 414.44L178.95 413.72L179.41 413.18L179.88 413.23L180.34 412.54L180.81 412.11L181.28 411.85L181.75 411.68L182.22 412.08L182.70 410.48L183.17 410.55L183.64 410.04L184.12 409.64L184.59 409.85L185.06 409.24L185.53 408.84L186.01 408.10L186.48 407.60L186.95 407.60L187.42 407.03L187.89 406.56L188.36 406.60L188.84 405.61L189.31 405.40L189.79 405.53L190.27 404.89L190.75 404.78L191.24 403.93L191.72 404.10L192.22 403.30L192.72 403.65L193.22 403.14L193.72 402.71L194.23 402.75L194.75 402.06L195.27 401.43L195.79 401.85L196.31 401.15L196.83 401.14L197.36 400.50L197.88 400.54L198.41 399.58L198.94 399.16L199.46 398.83L199.99 399.26L200.52 398.06L201.04 397.83L201.57 397.66L202.09 397.92L202.62 397.70L203.15 397.00L203.68 397.25L204.21 396.81L204.74 396.83L205.28 396.47L205.82 395.66L206.35 395.69L206.90 395.32L207.44 395.28L207.99 394.96L208.54 394.67L209.09 394.67L209.65 394.22L210.21 394.23L210.77 393.78L211.33 393.50L211.89 393.66L212.46 393.46L213.03 393.36L213.59 392.95L214.16 392.47L214.73 392.41L215.30 392.21L215.86 391.37L216.43 391.39L217.00 392.10L217.58 391.37L218.15 390.23L218.72 390.98L219.30 390.90L219.87 390.25L220.45 391.29L221.03 390.74L221.61 390.49L222.19 390.01L222.77 390.12L223.36 390.13L223.95 389.89L224.54 389.40L225.13 389.60L225.72 389.48L226.32 389.45L226.91 388.90L227.51 389.27L228.11 389.09L228.70 389.08L229.29 388.98L229.89 388.32L230.48 389.02L231.07 388.89L231.66 388.06L232.26 388.40L232.85 388.03L233.44 388.07L234.03 388.48L234.62 388.22L235.22 388.64L235.81 387.88L236.40 387.36L237.00 387.71L237.59 386.72L238.18 388.13L238.78 387.51L239.37 387.50L239.97 387.32L240.56 386.88L241.16 387.07L241.76 386.76L242.35 386.79L242.95 387.02L243.55 386.40L244.14 387.36L244.74 386.32L245.34 386.95L245.93 386.36L246.53 386.09L247.13 386.62L247.73 386.49L248.32 386.30L248.92 386.31L249.52 386.06L250.12 386.39L250.72 386.02L251.32 386.16L251.91 386.51L252.51 385.58L253.11 385.81L253.71 385.74L254.31 385.66L254.91 385.42L255.51 385.78L256.11 385.90L256.71 385.77L257.31 385.18L257.90 385.99L258.50 385.96L259.10 385.69L259.70 385.25L260.30 385.27L260.90 386.27L261.50 386.14L262.09 385.63L262.69 385.06L263.29 385.82L263.89 385.37L264.49 385.88L265.08 384.99L265.68 385.33L266.28 385.02L266.88 385.34L267.48 384.76L268.07 385.30L268.67 384.76L269.27 384.53L269.87 385.03L270.47 384.86L271.07 383.92L271.66 384.67L272.26 384.68L272.86 384.66L273.46 385.33L274.06 384.26L274.66 384.45L275.25 383.76L275.85 383.80L276.45 384.09L277.05 384.21L277.65 384.14L278.24 384.41L278.84 384.39L279.44 384.45L280.04 383.93L280.63 384.13L281.23 383.60L281.83 383.96L282.42 383.94L283.02 383.49L283.62 382.36L284.21 383.30L284.81 384.50L285.40 383.38L286.00 383.09L286.60 383.31L287.19 383.64L287.79 383.26L288.38 382.96L288.98 382.46L289.57 382.77L290.17 382.34L290.76 382.88L291.36 383.26L291.95 383.00L292.55 382.25L293.14 382.01L293.73 381.76L294.33 382.42L294.92 382.38L295.51 382.39L296.11 382.11L296.70 381.39L297.29 381.01L297.89 382.15L298.48 381.26L299.07 382.29L299.66 380.54L300.26 380.86L300.85 380.83L301.44 381.22L302.03 381.29L302.62 380.68L303.22 381.05L303.81 380.16L304.40 380.39L304.99 379.99L305.58 380.16L306.17 380.01L306.76 380.30L307.35 381.50L307.94 379.38L308.53 379.75L309.12 380.01L309.70 379.64L310.29 380.09L310.88 378.94L311.47 379.58L312.06 378.80L312.65 379.36L313.23 378.96L313.82 378.88L314.41 378.40L315.00 377.74L315.58 377.93L316.17 378.58L316.76 378.04L317.34 378.34L317.93 377.33L318.52 378.05L319.10 378.08L319.69 376.56L320.27 377.52L320.86 378.09L321.44 376.79L322.03 377.42L322.61 376.87L323.20 377.09L323.78 376.42L324.37 376.11L324.95 376.13L325.54 376.02L326.12 375.78L326.70 375.51L327.29 376.24L327.87 375.37L328.46 374.95L329.04 374.93L329.62 375.41L330.20 374.07L330.79 375.13L331.37 375.09L331.95 375.19L332.54 374.29L333.12 373.98L333.70 374.27L334.28 374.11L334.86 374.49L335.44 373.78L336.03 373.41L336.61 372.86L337.19 373.21L337.77 373.18L338.35 373.53L338.93 372.89L339.51 373.30L340.09 373.10L340.67 372.04L341.25 371.72L341.83 371.79L342.41 371.82L342.99 371.41L343.57 371.94L344.15 371.78L344.73 371.87L345.31 371.29L345.89 370.82L346.47 371.05L347.05 370.30L347.63 370.63L348.21 370.06L348.79 370.79L349.37 368.88L349.95 370.34L350.53 370.20L351.11 369.62L351.69 369.65L352.28 369.43L352.86 369.79L353.44 369.80L354.02 368.89L354.60 369.50L355.18 368.29L355.76 368.63L356.34 368.50L356.92 367.56L357.51 368.15L358.09 367.54L358.67 368.08L359.25 367.15L359.84 366.59L360.42 366.67L361.00 367.15L361.59 367.15L362.17 367.02L362.75 366.36L363.34 366.95L363.92 366.19L364.50 366.20L365.09 366.63L365.67 365.95L366.26 365.00L366.84 366.09L367.42 365.61L368.01 365.29L368.59 365.95L369.17 364.90L369.76 365.37L370.34 364.98L370.92 366.02L371.51 363.78L372.09 364.59L372.67 364.52L373.26 364.74L373.84 363.88L374.43 363.63L375.01 364.46L375.59 363.45L376.18 363.65L376.76 363.35L377.34 363.42L377.93 362.45L378.51 362.70L379.09 362.79L379.68 362.73L380.26 363.07L380.84 362.64L381.43 362.53L382.01 362.09L382.59 362.59L383.18 361.54L383.76 361.65L384.34 360.83L384.93 360.91L385.51 361.69L386.09 361.11L386.68 360.09L387.26 360.83L387.84 360.60L388.43 360.02L389.01 360.60L389.59 360.16L390.18 360.16L390.76 360.48L391.34 359.57L391.93 360.26L392.51 359.46L393.09 359.33L393.68 359.95L394.26 359.36L394.85 358.83L395.43 358.84L396.01 358.86L396.60 357.91L397.18 358.82L397.77 358.35L398.36 357.59L398.94 357.63L399.53 358.39L400.12 357.21L400.70 358.76L401.29 357.04L401.88 357.53L402.46 356.03L403.05 357.12L403.63 356.76L404.21 357.11L404.79 356.82L405.37 356.41L405.95 357.49L406.53 356.65L407.10 355.74L407.68 356.11L408.25 354.33L408.82 355.29L409.39 356.02L409.96 354.93L410.52 355.08L411.09 354.24L411.65 355.00L412.21 354.46L412.78 354.19L413.34 354.44L413.90 354.57L414.46 353.94L415.02 352.46L415.58 353.30L416.14 353.01L416.70 352.09L417.26 351.63L417.82 352.01L418.38 351.85L418.94 351.74L419.50 351.20L420.06 351.43L420.62 351.28L421.18 350.78L421.75 350.90L422.31 350.21L422.87 349.50L423.43 350.07L423.99 350.29L424.55 350.99L425.11 348.36L425.67 348.96L426.23 348.56L426.79 348.91L427.35 348.12L427.91 348.41L428.47 348.62L429.03 347.54L429.59 347.66L430.15 348.29L430.71 347.71L431.27 346.24L431.82 347.87L432.38 346.28L432.94 346.55L433.50 345.98L434.06 345.74L434.62 345.40L435.18 345.84L435.74 344.92L436.30 344.46L436.86 344.59L437.42 344.65L437.97 343.44L438.54 344.62L439.10 343.65L439.66 344.16L440.22 344.28L440.78 343.55L441.35 343.45L441.91 342.76L442.48 342.44L443.04 341.63L443.61 342.28L444.17 341.90L444.74 340.80L445.31 341.91L445.87 342.34L446.44 341.59L447.01 341.77L447.58 340.86L448.14 340.30L448.71 340.64L449.28 340.25L449.85 339.66L450.42 340.55L450.99 339.93L451.56 339.33L452.12 339.56L452.69 339.20L453.26 339.39L453.83 339.69L454.40 338.40L454.97 337.93L455.54 339.02L456.12 339.34L456.69 337.67L457.26 337.34L457.83 337.02L458.41 337.44L458.98 337.33L459.56 336.98L460.14 337.36L460.71 336.38L461.29 336.33L461.87 335.84L462.45 336.97L463.03 336.66L463.61 336.61L464.19 335.40L464.77 336.31L465.35 335.65L465.93 335.71L466.52 335.50L467.10 334.92L467.69 334.86L468.27 334.07L468.86 334.43L469.44 334.48L470.03 333.92L470.62 334.43L471.21 334.91L471.80 333.95L472.40 333.63L472.99 333.60L473.58 334.02L474.18 334.70L474.78 333.85L475.37 333.72L475.97 333.02L476.56 333.71L477.16 333.78L477.76 333.22L478.36 333.34L478.95 332.97L479.55 333.59L480.15 333.82L480.75 333.30L481.34 333.31L481.94 333.04L482.54 332.65L483.14 332.53L483.73 332.66L484.33 332.86L484.93 332.75L485.53 333.19L486.13 333.02L486.73 333.34L487.33 332.96L487.93 332.44L488.53 332.58L489.13 331.74L489.72 333.29L490.32 332.21L490.92 332.28L491.52 333.33L492.12 331.95L492.72 332.16L493.32 332.41L493.92 332.16L494.52 332.47L495.12 332.54L495.72 332.71L496.32 332.36L496.93 332.73L497.53 332.25L498.13 332.68L498.73 332.95L499.32 331.59L499.92 332.29L500.52 332.48L501.12 331.53L501.72 331.01L502.32 332.60L502.92 332.18L503.52 332.88L504.12 332.55L504.72 332.60L505.32 332.49L505.92 332.75L506.52 332.34L507.11 332.58L507.71 333.23L508.31 332.81L508.91 333.22L509.50 333.04L510.10 332.95L510.70 332.72L511.29 333.61L511.89 332.92L512.49 333.54L513.08 332.74L513.68 333.65L514.28 333.78L514.87 333.40L515.47 333.05L516.06 333.81L516.65 334.02L517.25 333.84L517.84 333.88L518.43 334.70L519.01 334.35L519.60 334.33L520.18 335.01L520.76 334.75L521.35 334.58L521.93 335.43L522.51 335.03L523.09 335.76L523.67 335.22L524.24 335.84L524.82 336.42L525.39 336.26L525.97 336.47L526.54 336.64L527.11 337.02L527.67 336.88L528.24 337.24L528.80 337.15L529.36 338.30L529.92 337.28L530.48 338.24L531.03 337.67L531.59 338.57L532.14 339.14L532.68 338.34L533.23 339.82L533.77 338.90L534.31 339.22L534.86 339.97L535.40 339.63L535.93 340.79L536.47 340.85L537.01 339.74L537.55 340.57L538.09 341.14L538.62 341.90L539.16 341.53L539.70 341.94L540.24 342.78L540.78 342.35L541.32 343.16L541.86 342.72L542.40 343.99L542.94 344.43L543.48 343.61L544.01 343.36L544.55 343.92L545.09 345.30L545.62 344.92L546.16 345.87L546.70 345.14L547.23 345.58L547.77 346.19L548.30 346.96L548.84 346.70L549.37 346.63L549.90 347.46L550.43 347.65L550.97 348.10L551.50 348.09L552.03 348.18L552.57 348.72L553.10 347.97L553.63 349.38L554.17 350.05L554.70 350.05L555.23 349.72L555.76 349.76L556.29 351.22L556.82 350.76L557.34 351.17L557.86 351.64L558.39 351.60L558.90 352.16L559.42 353.05L559.93 352.55L560.45 353.84L560.95 353.53L561.46 353.82L561.97 354.40L562.47 354.71L562.97 355.10L563.47 355.23L563.97 355.11L564.46 356.33L564.96 355.96L565.45 356.03L565.95 357.07L566.44 357.31L566.93 357.39L567.42 357.78L567.91 358.33L568.40 359.21L568.89 358.76L569.37 358.64L569.86 359.27L570.35 360.04L570.84 360.11L571.32 360.28L571.80 361.19L572.28 361.55L572.77 361.54L573.25 362.09L573.72 362.09L574.20 362.46L574.68 362.93L575.16 362.90L575.64 363.92L576.11 364.12L576.59 364.32L577.07 364.92L577.54 365.30L578.02 365.32L578.50 365.74L578.98 366.02L579.46 367.21L579.94 366.39L580.43 367.36L580.91 368.07L581.40 367.69L581.88 368.09L582.37 368.43L582.85 368.46L583.34 369.96L583.83 369.76L584.31 369.77L584.80 370.30L585.29 370.95L585.78 371.11L586.27 371.24L586.76 372.12L587.24 371.94L587.73 372.47L588.22 373.03L588.71 373.04L589.20 373.70L589.68 373.77L590.17 375.37L590.66 374.56L591.14 375.33L591.63 375.10L592.11 375.36L592.59 376.09L593.07 376.36L593.55 376.72L594.03 377.19L594.51 377.90L594.99 378.64L595.47 379.04L595.94 378.68L596.42 379.70L596.89 380.02L597.37 379.52L597.84 379.94L598.31 380.45L598.79 381.58L599.26 381.17L599.73 381.51L600.20 382.48L600.67 382.27L601.14 382.66L601.61 383.31L602.08 383.53L602.54 382.95L603.01 383.75L603.48 384.85L603.95 384.44L604.41 385.79L604.88 385.69L605.34 386.19L605.81 386.58L606.27 386.20L606.74 386.98L607.20 387.24L607.67 388.08L608.13 388.93L608.59 388.68L609.06 389.17L609.52 388.82L609.98 389.77L610.45 390.20L610.91 390.60L611.37 391.27L611.83 391.94L612.29 391.82L612.75 392.35L613.21 392.04L613.67 393.20L614.13 393.38L614.58 393.13L615.04 394.27L615.50 394.30L615.95 395.29L616.41 395.48L616.87 395.74L617.32 396.71L617.78 396.43L618.23 396.77L618.69 397.28L619.14 397.70L619.60 397.75L620.06 398.65L620.51 398.99L620.97 399.04L621.42 399.07L621.88 400.44L622.33 400.87L622.79 401.11L623.24 401.54L623.70 402.22L624.16 402.09L624.61 402.94L625.07 402.71L625.53 402.85L625.99 403.55L626.44 403.83L626.90 404.50L627.36 405.35L627.82 405.25L628.28 405.85L628.74 406.62L629.20 406.89L629.66 406.68L630.11 406.81L630.57 408.17L631.03 407.44L631.49 407.57L631.95 407.90L632.41 409.38L632.87 408.85L633.33 409.66L633.78 410.09L634.24 410.98L634.70 410.44L635.16 411.32L635.61 411.80L636.07 412.57L636.53 412.39L636.98 412.96L637.44 413.16L637.89 414.02L638.35 414.36L638.80 414.30L639.25 415.01L639.70 414.71L640.15 415.64L640.61 415.71L641.06 416.27L641.51 417.15L641.96 417.94L642.40 417.67L642.85 417.95L643.30 418.29L643.75 419.06L644.20 419.14L644.64 419.94L645.09 420.53L645.53 420.62L645.98 420.68L646.42 421.47L646.87 421.38L647.31 421.43L647.76 422.81L648.20 423.48L648.64 423.68L649.08 423.52L649.52 422.91L649.96 424.21L650.40 425.07L650.84 425.14L651.28 426.15L651.71 425.82L652.15 426.68L652.58 427.00L653.01 427.43L653.44 427.29L653.88 428.14L654.31 428.68L654.74 428.88L655.17 428.99L655.60 429.68L656.03 429.94L656.46 430.79L656.90 431.42L657.33 431.62L657.77 432.04L658.20 432.27L658.64 432.80L659.08 432.50L659.53 433.57L659.97 434.25L660.42 434.18L660.86 434.98L661.31 434.65L661.76 435.56L662.21 435.88L662.66 436.49L663.12 436.78L663.57 437.86L664.02 436.46L664.48 437.43L664.94 438.07L665.39 438.72L665.85 438.86L666.31 439.24L666.77 439.32L667.23 439.78L667.70 440.32L668.16 441.49L668.63 441.10L669.09 442.65L669.56 442.47L670.03 442.40L670.50 443.14L670.97 443.58L671.44 443.22L671.91 443.45L672.38 444.84L672.86 444.41L673.33 445.38L673.81 445.68L674.28 445.28L674.76 446.40L675.24 446.73L675.72 447.33L676.20 447.26L676.69 447.77L677.17 448.10L677.66 448.25L678.15 449.21L678.64 449.34L679.13 449.87L679.62 449.83L680.11 450.43L680.61 450.08L681.11 450.52L681.61 451.37L682.11 451.30L682.62 451.57L683.13 452.06L683.64 451.82L684.15 452.70L684.66 453.12L685.17 453.18L685.68 453.23L686.19 454.48L686.70 454.36L687.21 454.21L687.72 454.66L688.24 454.64L688.75 454.91L689.27 455.17L689.78 455.82L690.30 456.53L690.81 456.94L691.33 456.97L691.85 457.64L692.37 457.79L692.89 457.54L693.00 457.71"/>
<path class="ln" stroke="#008000" d="M148.75 514.02L149.33 513.89L149.90 513.76L150.48 513.38L151.06 513.16L151.64 513.36L152.21 512.99L152.79 512.94L153.37 512.69L153.95 512.41L154.53 512.50L155.11 512.26L155.68 512.19L156.26 511.96L156.84 511.66L157.42 511.59L158.00 511.53L158.58 511.22L159.16 511.15L159.74 511.08L160.32 510.71L160.90 510.64L161.48 510.54L162.07 510.46L162.65 510.21L163.23 510.01L163.81 509.98L164.39 509.72L164.97 509.67L165.55 509.51L166.14 509.32L166.72 509.27L167.30 509.15L167.88 508.78L168.46 508.80L169.05 508.59L169.63 508.43L170.21 508.32L170.79 508.27L171.38 508.01L171.96 507.85L172.54 507.62L173.12 507.58L173.71 507.45L174.29 507.23L174.88 507.16L175.46 507.10L176.05 507.06L176.64 506.79L177.23 506.89L177.25 506.73L177.55 487.60L177.85 487.60L178.20 506.43L177.82 506.69L178.41 506.59L179.00 506.47L179.60 506.33L180.19 506.16L180.78 506.11L181.37 506.01L181.96 505.91L182.55 505.92L183.14 505.84L183.73 505.59L184.32 505.51L184.91 505.24L185.50 505.00L186.08 505.06L186.67 504.97L187.26 504.96L187.85 504.94L188.44 504.64L189.03 504.63L189.62 504.51L190.22 504.33L190.81 504.30L191.40 504.17L191.99 504.20L192.59 503.90L193.18 503.72L193.78 503.88L194.37 503.88L194.97 503.83L195.57 503.63L196.16 503.67L196.76 503.50L197.36 503.57L197.96 503.38L198.56 503.30L199.16 503.43L199.75 503.19L200.35 503.12L200.95 503.28L201.55 503.18L202.15 502.93L202.75 503.21L203.35 502.96L203.95 503.00L204.55 503.01L205.15 503.18L205.75 502.98L206.35 503.04L206.95 502.93L207.55 502.97L208.15 502.78L208.75 502.89L209.35 502.82L209.95 502.77L210.55 502.87L211.15 502.93L211.75 502.86L212.35 502.78L212.95 502.86L213.55 502.69L214.15 502.81L214.75 502.82L215.35 502.76L215.95 502.74L216.55 502.77L217.15 502.71L217.75 502.74L218.35 502.82L218.95 502.59L219.55 502.88L220.15 502.81L220.75 502.80L221.35 502.70L221.95 502.76L222.55 502.75L223.15 502.88L223.75 502.89L224.35 502.95L224.95 502.87L225.55 502.70L226.15 502.81L226.75 502.88L227.35 502.96L227.95 502.81L228.55 502.94L229.14 502.98L229.74 502.94L230.34 503.00L230.94 503.24L231.54 503.06L232.14 503.26L232.74 503.14L233.34 503.09L233.94 503.23L234.54 503.18L235.14 503.25L235.74 503.10L236.33 503.37L236.93 503.32L237.53 503.52L238.13 503.47L238.73 503.47L239.33 503.45L239.93 503.59L240.53 503.59L241.12 503.60L241.72 503.87L242.32 503.73L242.92 503.86L243.52 503.94L244.12 503.88L244.72 503.94L245.32 503.96L245.92 504.04L246.51 504.04L247.11 504.07L247.71 504.08L248.31 504.06L248.91 504.10L249.51 504.11L250.11 504.22L250.71 504.36L251.31 504.19L251.90 504.26L252.50 504.26L253.10 504.38L253.70 504.51L254.30 504.43L254.90 504.52L255.50 504.32L256.10 504.55L256.70 504.64L257.29 504.58L257.89 504.53L258.49 504.75L259.09 504.74L259.69 504.94L260.29 504.77L260.89 504.84L261.49 504.86L262.09 504.93L262.69 504.80L263.28 505.12L263.88 505.09L264.48 505.05L265.08 505.07L265.68 505.19L266.28 505.21L266.88 505.18L267.48 505.23L268.08 505.32L268.67 505.28L269.27 505.33L269.87 505.36L270.47 505.40L271.07 505.36L271.67 505.43L272.27 505.58L272.87 505.66L273.47 505.62L274.06 505.35L274.66 505.57L275.26 505.77L275.86 505.92L276.46 505.92L277.06 505.83L277.66 505.85L278.26 505.87L278.86 506.10L279.45 505.99L280.05 505.92L280.65 506.12L281.25 506.13L281.85 505.91L282.45 506.06L283.05 506.23L283.65 506.25L284.25 506.09L284.85 506.22L285.45 506.33L286.05 506.31L286.65 506.21L287.25 506.31L287.85 506.41L288.45 506.41L289.05 506.31L289.65 506.62L290.25 506.45L290.84 506.32L291.44 506.44L292.04 506.25L292.64 506.44L293.24 506.52L293.84 506.75L294.44 506.57L295.04 506.60L295.64 506.64L296.24 506.61L296.84 506.55L297.44 506.73L298.04 506.67L298.64 506.77L299.24 506.74L299.84 506.57L300.44 506.63L301.04 506.64L301.64 506.66L302.24 506.74L302.84 506.70L303.44 506.65L304.04 506.86L304.64 506.87L305.24 506.76L305.84 506.68L306.44 506.73L307.04 506.73L307.64 506.74L308.24 506.75L308.84 506.87L309.44 506.89L310.04 506.92L310.64 506.81L311.24 506.94L311.84 507.10L312.44 506.96L313.04 506.92L313.64 507.20L314.24 507.00L314.84 506.93L315.44 507.07L316.04 506.94L316.64 506.97L317.24 507.09L317.84 506.95L318.44 506.87L319.04 507.07L319.64 507.08L320.24 506.88L320.84 506.97L321.44 507.10L322.04 507.03L322.64 507.08L323.24 506.99L323.84 506.95L324.44 506.96L325.04 506.98L325.64 507.02L326.24 506.77L326.84 506.84L327.44 507.01L328.04 507.06L328.64 506.95L329.24 507.01L329.84 506.91L330.44 506.88L331.04 507.02L331.64 507.00L332.24 506.96L332.84 506.89L333.44 507.01L334.04 507.00L334.64 506.98L335.24 506.99L335.84 506.97L336.44 507.05L337.04 507.03L337.64 507.15L338.24 507.12L338.84 506.99L339.44 506.88L340.04 507.05L340.64 506.94L341.24 507.12L341.84 506.85L342.44 506.95L343.04 507.12L343.64 506.98L344.24 507.04L344.84 507.03L345.44 506.93L346.04 507.04L346.64 506.89L347.24 506.94L347.84 507.15L348.44 506.94L349.04 506.99L349.64 506.86L350.24 507.07L350.84 506.87L351.44 506.88L352.04 506.89L352.64 506.86L353.24 506.81L353.84 506.91L354.44 506.89L355.04 506.92L355.64 506.84L356.24 506.84L356.84 506.89L357.44 506.92L358.04 506.83L358.64 506.91L359.24 506.89L359.84 506.99L360.44 506.95L361.04 506.94L361.64 506.98L362.24 506.83L362.84 507.00L363.44 506.89L364.04 506.83L364.64 506.90L365.24 506.77L365.84 507.01L366.44 506.87L367.04 506.71L367.64 506.74L368.24 506.79L368.84 506.77L369.44 506.86L370.04 506.89L370.64 506.89L371.24 506.84L371.84 506.70L372.44 506.87L373.04 506.87L373.64 506.59L374.24 506.70L374.84 506.71L375.44 506.66L376.04 506.81L376.64 506.75L377.24 506.70L377.84 506.58L378.44 506.50L379.04 506.59L379.64 506.58L380.24 506.57L380.84 506.45L381.44 506.49L382.04 506.57L382.64 506.63L383.24 506.54L383.84 506.55L384.44 506.55L385.04 506.54L385.64 506.64L386.24 506.45L386.84 506.53L387.44 506.38L388.04 506.59L388.64 506.53L389.24 506.54L389.84 506.45L390.44 506.42L391.04 506.30L391.64 506.43L392.24 506.51L392.84 506.13L393.44 506.51L394.04 506.27L394.63 506.37L395.23 506.25L395.83 506.29L396.43 506.36L397.03 506.26L397.63 506.42L398.23 506.25L398.83 506.29L399.43 506.16L400.03 506.15L400.63 506.15L401.23 506.21L401.83 506.30L402.43 506.14L403.03 506.00L403.63 506.04L404.23 505.96L404.83 506.10L405.43 506.04L406.03 505.92L406.63 505.96L407.23 506.05L407.83 505.99L408.43 505.88L409.03 505.97L409.63 505.91L410.23 505.80L410.83 505.84L411.43 505.97L412.03 505.68L412.63 505.84L413.22 505.71L413.82 505.75L414.42 505.71L415.02 505.67L415.62 505.60L416.22 505.59L416.82 505.62L417.42 505.57L418.02 505.37L418.62 505.51L419.22 505.56L419.35 505.49L419.65 504.55L419.95 504.55L420.30 505.19L419.82 505.49L420.41 505.39L421.01 505.18L421.61 505.36L422.21 505.33L422.81 505.37L423.41 505.12L424.01 505.14L424.61 505.08L425.21 505.07L425.80 504.90L426.40 504.97L427.00 504.94L427.60 504.90L428.20 505.04L428.80 504.80L429.40 504.78L430.00 504.88L430.59 504.69L431.19 504.80L431.79 504.69L432.39 504.56L432.99 504.51L433.59 504.54L434.19 504.47L434.79 504.46L435.38 504.35L435.98 504.41L436.58 504.26L437.18 504.24L437.78 504.22L438.38 504.09L438.98 504.13L439.57 504.10L440.17 503.94L440.77 503.87L441.37 504.10L441.97 503.93L442.57 503.90L443.17 503.81L443.77 503.97L444.36 503.77L444.96 503.59L445.56 503.75L446.16 503.59L446.76 503.67L447.36 503.58L447.96 503.66L448.55 503.55L449.15 503.43L449.75 503.55L450.35 503.62L450.95 503.29L451.55 503.39L452.15 503.29L452.74 503.25L453.34 503.06L453.94 503.04L454.54 503.21L455.14 503.05L455.74 502.95L456.34 503.11L456.93 503.02L457.53 502.93L458.13 502.74L458.73 502.78L459.33 502.87L459.93 502.52L460.53 502.52L461.12 502.55L461.72 502.67L462.32 502.56L462.92 502.54L463.52 502.48L464.12 502.44L464.72 502.50L465.32 502.67L465.92 502.36L466.51 502.40L467.11 502.21L467.71 502.36L468.31 502.19L468.91 502.17L469.51 502.08L470.11 502.03L470.71 502.02L471.31 501.95L471.91 501.90L472.50 502.15L473.10 502.00L473.70 502.02L474.30 501.96L474.90 501.76L475.50 501.87L476.10 501.76L476.70 501.75L477.30 501.79L477.90 501.79L478.50 501.76L479.10 501.74L479.70 501.68L480.30 501.69L480.90 501.78L481.50 501.84L482.10 501.73L482.70 501.59L483.30 501.62L483.90 501.65L484.50 501.64L485.10 501.64L485.70 501.62L486.30 501.53L486.90 501.45L487.50 501.31L488.10 501.53L488.69 501.47L489.29 501.32L489.89 501.37L490.49 501.32L491.09 501.29L491.69 501.47L492.29 501.26L492.89 501.49L493.49 501.24L494.09 501.16L494.69 501.22L495.29 501.40L495.89 501.15L496.49 501.19L497.09 500.92L497.69 501.15L498.29 500.95L498.89 501.04L499.49 501.14L500.09 500.97L500.69 501.03L501.29 500.92L501.89 500.88L502.49 500.91L503.08 500.95L503.68 500.83L504.28 500.79L504.88 500.67L505.48 500.57L506.08 500.70L506.68 500.64L507.28 500.65L507.88 500.68L508.48 500.62L509.08 500.44L509.68 500.50L510.27 500.47L510.87 500.38L511.47 500.17L512.07 500.26L512.67 500.29L513.27 500.33L513.87 500.20L514.47 500.07L515.07 500.28L515.67 500.13L516.27 500.06L516.87 500.11L517.46 500.10L518.06 500.00L518.66 499.92L519.26 499.90L519.86 499.99L520.46 499.88L521.06 499.92L521.66 499.68L522.26 499.78L522.86 499.77L523.46 499.75L524.06 499.60L524.66 499.72L525.26 499.88L525.86 499.76L526.46 499.67L527.06 499.64L527.66 499.57L528.25 499.70L528.85 499.59L529.45 499.62L530.05 499.72L530.65 499.71L531.25 499.67L531.85 499.45L532.45 499.54L533.05 499.68L533.65 499.46L534.25 499.67L534.85 499.54L535.45 499.62L536.05 499.48L536.65 499.41L537.25 499.41L537.85 499.62L538.45 499.45L539.05 499.36L539.65 499.53L540.25 499.31L540.85 499.42L541.45 499.46L542.05 499.45L542.65 499.45L543.25 499.39L543.85 499.17L544.45 499.41L545.05 499.37L545.65 499.35L546.25 499.40L546.85 499.42L547.45 499.36L548.05 499.47L548.65 499.53L549.25 499.35L549.85 499.29L550.45 499.19L551.05 499.36L551.65 499.14L552.25 499.44L552.85 499.38L553.45 499.24L554.05 499.34L554.65 499.20L555.25 499.17L555.85 499.34L556.45 499.17L557.05 499.28L557.65 499.25L558.25 499.40L558.85 499.28L559.45 499.39L560.05 499.33L560.65 499.18L561.25 499.14L561.85 499.06L562.45 499.25L563.05 499.00L563.65 499.17L564.25 499.03L564.85 499.20L565.45 499.32L566.05 499.19L566.65 499.22L567.25 499.24L567.85 499.32L568.45 499.17L569.05 499.32L569.65 499.32L570.25 499.25L570.85 499.27L571.45 499.48L572.05 499.45L572.66 499.44L573.26 499.34L573.86 499.41L574.46 499.34L575.06 499.32L575.66 499.45L576.26 499.46L576.86 499.43L577.46 499.45L578.06 499.62L578.65 499.57L579.25 499.49L579.85 499.84L580.45 499.52L581.05 499.72L581.65 499.64L582.25 499.82L582.85 499.79L583.45 499.90L584.05 499.83L584.65 499.80L585.25 500.02L585.85 499.91L586.44 499.93L587.04 499.96L587.64 499.93L588.24 500.06L588.84 500.21L589.44 500.23L590.04 500.16L590.63 500.23L591.23 500.28L591.83 500.19L592.43 500.43L593.03 500.36L593.63 500.22L594.22 500.49L594.82 500.40L595.42 500.56L596.02 500.65L596.62 500.62L597.21 500.73L597.81 500.88L598.41 500.70L599.01 500.71L599.61 500.93L600.20 500.99L600.80 501.26L601.40 501.23L602.00 501.25L602.59 501.26L603.19 501.17L603.79 501.29L604.38 501.45L604.98 501.57L605.58 501.58L606.17 501.70L606.77 501.83L607.36 501.78L607.96 501.88L608.55 501.90L609.15 502.17L609.74 501.96L610.34 502.27L610.93 502.36L611.53 502.18L612.12 502.40L612.72 502.62L613.31 502.52L613.90 502.63L614.50 502.76L615.09 502.96L615.68 502.99L616.27 502.96L616.87 502.98L617.46 503.06L618.05 503.32L618.65 503.19L619.24 503.43L619.83 503.64L620.42 503.57L621.01 503.75L621.60 503.87L622.20 504.06L622.79 503.97L623.38 504.21L623.97 504.30L624.56 504.43L625.15 504.38L625.74 504.68L626.33 504.67L626.92 504.85L627.51 504.90L628.10 505.26L628.69 505.21L629.28 505.51L629.87 505.38L630.46 505.53L631.05 505.81L631.64 505.76L632.23 505.95L632.81 506.13L633.40 506.12L633.99 506.21L634.58 506.37L635.17 506.60L635.75 506.67L636.34 506.87L636.93 506.85L637.52 506.95L638.10 507.01L638.69 507.21L639.27 507.31L639.86 507.48L640.45 507.54L641.03 507.69L641.62 507.86L642.20 508.10L642.78 508.12L643.37 508.24L643.95 508.52L644.54 508.68L645.12 508.68L645.70 508.82L646.29 508.82L646.87 508.99L647.45 509.27L648.04 509.54L648.62 509.72L649.20 509.78L649.78 509.80L650.36 510.04L650.95 510.01L651.53 510.28L652.11 510.33L652.69 510.58L653.28 510.86L653.86 511.07L654.44 511.04L655.02 511.20L655.61 511.16L656.19 511.40L656.77 511.74L657.35 511.85L657.94 511.97L658.52 512.08L659.10 512.33L659.68 512.30L660.27 512.44L660.85 512.85L661.44 512.66L662.02 512.92L662.60 512.98L663.19 513.29L663.77 513.27L664.35 513.40L664.94 513.54L665.52 513.79L666.11 513.76L666.69 513.86L667.27 514.13L667.86 514.25L668.44 514.47L669.02 514.54L669.61 514.65L670.19 514.88L670.77 515.03L671.36 515.22L671.94 515.28L672.53 515.24L673.11 515.54L673.70 515.68L674.28 515.80L674.87 515.99L675.45 516.05L676.04 516.30L676.62 516.30L677.21 516.57L677.80 516.47L678.39 516.47L678.97 516.71L679.56 517.17L680.15 517.00L680.74 517.12L681.33 517.26L681.92 517.30L682.51 517.46L683.10 517.55L683.69 517.82L684.29 517.84L684.88 517.86L685.47 517.99L686.06 518.08L686.66 518.02L687.25 518.31L687.84 518.24L688.44 518.45L689.03 518.48L689.63 518.63L690.22 518.76L690.82 518.77L691.41 518.75L692.01 518.84L692.60 519.00L693.00 518.96"/>
<path class="tick" d="M178.5 540.5v-7.0M178.5 322.5v6.0M255.5 540.5v-7.0M255.5 322.5v6.0M333.5 540.5v-7.0M333.5 322.5v6.0M410.5 540.5v-7.0M410.5 322.5v6.0M488.5 540.5v-7.0M488.5 322.5v6.0M565.5 540.5v-7.0M565.5 322.5v6.0M643.5 540.5v-7.0M643.5 322.5v6.0M100.5 516.5h6.0M720.5 516.5h-7.0M100.5 492.5h6.0M720.5 492.5h-7.0M100.5 467.5h6.0M720.5 467.5h-7.0M100.5 443.5h6.0M720.5 443.5h-7.0M100.5 419.5h6.0M720.5 419.5h-7.0M100.5 395.5h6.0M720.5 395.5h-7.0M100.5 370.5h6.0M720.5 370.5h-7.0M100.5 346.5h6.0M720.5 346.5h-7.0"/>
<rect class="ax" x="100.5" y="322.4" width="620.0" height="218.10"/>
<text class="nm" x="99.35" y="557.2" text-anchor="middle">1398</text>
<text class="nm" x="176.45" y="557.2" text-anchor="middle">1400</text>
<text class="nm" x="254.35" y="557.2" text-anchor="middle">1402</text>
<text class="nm" x="331.45" y="557.2" text-anchor="middle">1404</text>
<text class="nm" x="409.35" y="557.2" text-anchor="middle">1406</text>
<text class="nm" x="486.45" y="557.2" text-anchor="middle">1408</text>
<text class="nm" x="564.35" y="557.2" text-anchor="middle">1410</text>
<text class="nm" x="641.45" y="557.2" text-anchor="middle">1412</text>
<text class="nm" x="719.35" y="557.2" text-anchor="middle">1414</text>
<text class="nm" x="95.00" y="546.10" text-anchor="end">0</text>
<text class="nm" x="94.10" y="521.36" text-anchor="end">50</text>
<text class="nm" x="94.10" y="497.12" text-anchor="end">100</text>
<text class="nm" x="94.10" y="472.87" text-anchor="end">150</text>
<text class="nm" x="94.10" y="448.63" text-anchor="end">200</text>
<text class="nm" x="94.10" y="424.39" text-anchor="end">250</text>
<text class="nm" x="94.10" y="400.15" text-anchor="end">300</text>
<text class="nm" x="94.10" y="375.90" text-anchor="end">350</text>
<text class="nm" x="94.10" y="351.66" text-anchor="end">400</text>
<text class="nm" x="94.10" y="327.42" text-anchor="end">450</text>
<rect x="587.5" y="327.8" width="127" height="34.4" fill="#fff" stroke="#000" stroke-width="1.3"/>
<path class="ln" stroke="#ff0000" d="M595 336.5H612.2"/>
<path class="ln" stroke="#008000" d="M595 351.6H612.2"/>
<text class="lg" x="622.2" y="338.9">XX2 Tsys333.48</text>
<text class="lg" x="622.2" y="354.8">YY2 Tsys71.93</text>
</g>
<text class="tk" x="409.7" y="576" text-anchor="middle">Frequency (MHz)</text>
</svg>
</body></html>
